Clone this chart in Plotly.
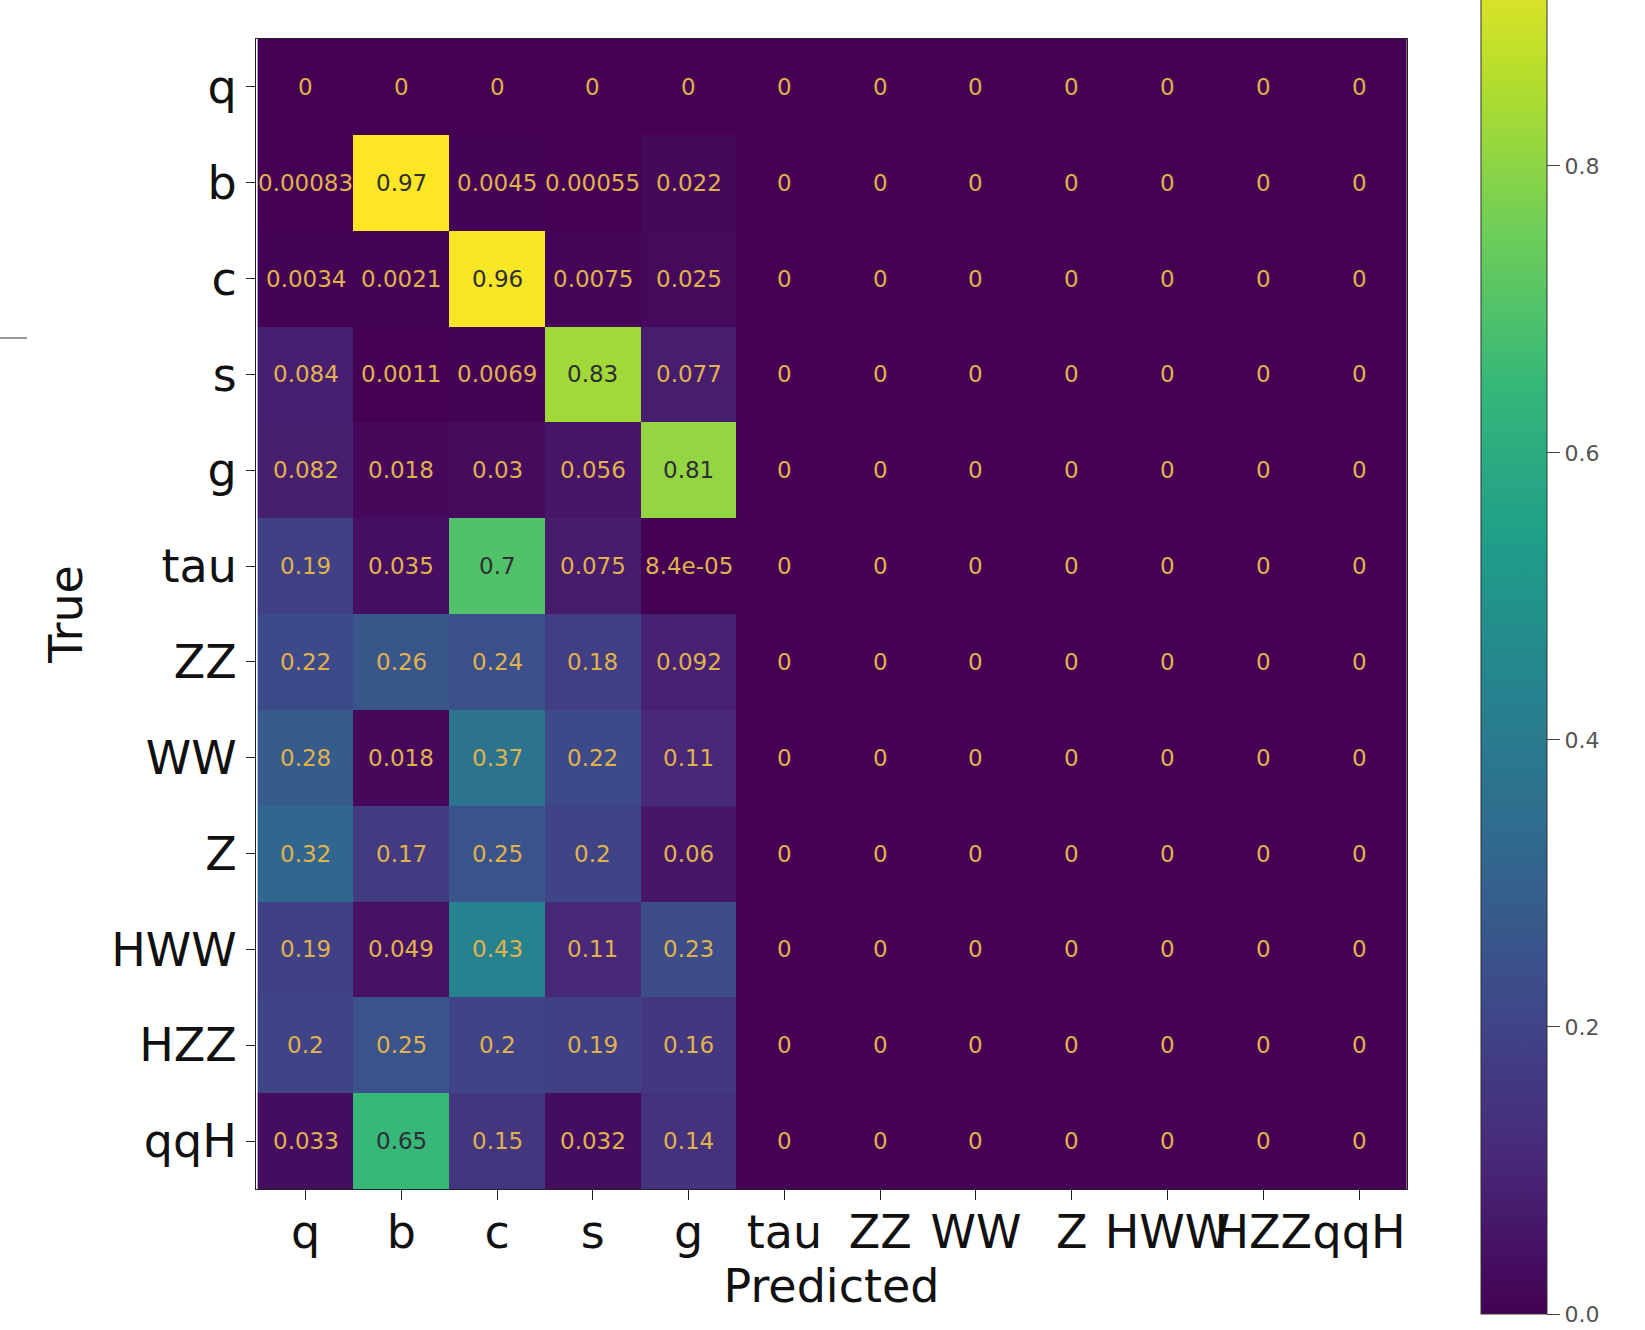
import plotly.graph_objects as go

labels = ["q", "b", "c", "s", "g", "tau", "ZZ", "WW", "Z", "HWW", "HZZ", "qqH"]

row_q   = [0, 0, 0, 0, 0, 0, 0, 0, 0, 0, 0, 0]
row_b   = [0.00083, 0.97, 0.0045, 0.00055, 0.022, 0, 0, 0, 0, 0, 0, 0]
row_c   = [0.0034, 0.0021, 0.96, 0.0075, 0.025, 0, 0, 0, 0, 0, 0, 0]
row_s   = [0.084, 0.0011, 0.0069, 0.83, 0.077, 0, 0, 0, 0, 0, 0, 0]
row_g   = [0.082, 0.018, 0.03, 0.056, 0.81, 0, 0, 0, 0, 0, 0, 0]
row_tau = [0.19, 0.035, 0.7, 0.075, 8.4e-05, 0, 0, 0, 0, 0, 0, 0]
row_ZZ  = [0.22, 0.26, 0.24, 0.18, 0.092, 0, 0, 0, 0, 0, 0, 0]
row_WW  = [0.28, 0.018, 0.37, 0.22, 0.11, 0, 0, 0, 0, 0, 0, 0]
row_Z   = [0.32, 0.17, 0.25, 0.2, 0.06, 0, 0, 0, 0, 0, 0, 0]
row_HWW = [0.19, 0.049, 0.43, 0.11, 0.23, 0, 0, 0, 0, 0, 0, 0]
row_HZZ = [0.2, 0.25, 0.2, 0.19, 0.16, 0, 0, 0, 0, 0, 0, 0]
row_qqH = [0.033, 0.65, 0.15, 0.032, 0.14, 0, 0, 0, 0, 0, 0, 0]

z = [row_q, row_b, row_c, row_s, row_g, row_tau, row_ZZ, row_WW, row_Z,
     row_HWW, row_HZZ, row_qqH]

W, H = 1645, 1330
L, R, T, B = 256, 1407, 39, 1189
pw, ph = R - L, B - T

zmin = 0.0
zmax = max(max(r) for r in z)
thr = (zmin + zmax) / 2

fig = go.Figure()
fig.add_trace(go.Heatmap(
    z=z, x=labels, y=labels,
    colorscale="Viridis", zmin=zmin, zmax=zmax,
    hoverinfo="skip",
    colorbar=dict(
        thickness=66, thicknessmode="pixels",
        len=(zmax - zmin) / 0.2 * 287, lenmode="pixels",
        x=(1481 - L) / pw, xanchor="left", xpad=0,
        y=(B - 1314) / ph, yanchor="bottom", ypad=0,
        tickvals=[0.0, 0.2, 0.4, 0.6, 0.8],
        ticktext=["0.0", "0.2", "0.4", "0.6", "0.8"],
        ticks="outside", ticklen=13, tickcolor="#444",
        tickfont=dict(family="DejaVu Sans", size=22, color="#555"),
        outlinecolor="#333", outlinewidth=1,
    ),
))

for i, row in enumerate(z):
    for j, v in enumerate(row):
        fig.add_annotation(
            x=labels[j], y=labels[i], xref="x", yref="y",
            text="{:.2g}".format(v), showarrow=False,
            font=dict(family="DejaVu Sans", size=23,
                      color="#2e2e36" if v > thr else "#e0b24e"),
        )

fig.add_shape(type="line", xref="paper", yref="paper",
              x0=(0 - L) / pw, x1=(27 - L) / pw,
              y0=(B - 338) / ph, y1=(B - 338) / ph,
              line=dict(color="#999", width=2))

fig.update_layout(
    width=W, height=H,
    margin=dict(l=L, r=W - R, t=T, b=H - B, pad=0, autoexpand=False),
    paper_bgcolor="white", plot_bgcolor="white",
    font=dict(family="DejaVu Sans", color="#111"),
    xaxis=dict(
        title=dict(text="Predicted", font=dict(size=46), standoff=2),
        tickfont=dict(size=46), ticks="outside", ticklen=10, tickcolor="#222",
        ticklabelstandoff=-7,
        tickangle=0, automargin=False,
        showline=True, linecolor="#222", mirror=True, linewidth=1,
        showgrid=False, zeroline=False,
    ),
    yaxis=dict(
        title=dict(text="True", font=dict(size=46), standoff=14),
        tickfont=dict(size=46), ticks="outside", ticklen=9, tickcolor="#222",
        automargin=False,
        showline=True, linecolor="#222", mirror=True, linewidth=1,
        showgrid=False, zeroline=False, autorange="reversed",
    ),
)

fig.write_html("out.html")
